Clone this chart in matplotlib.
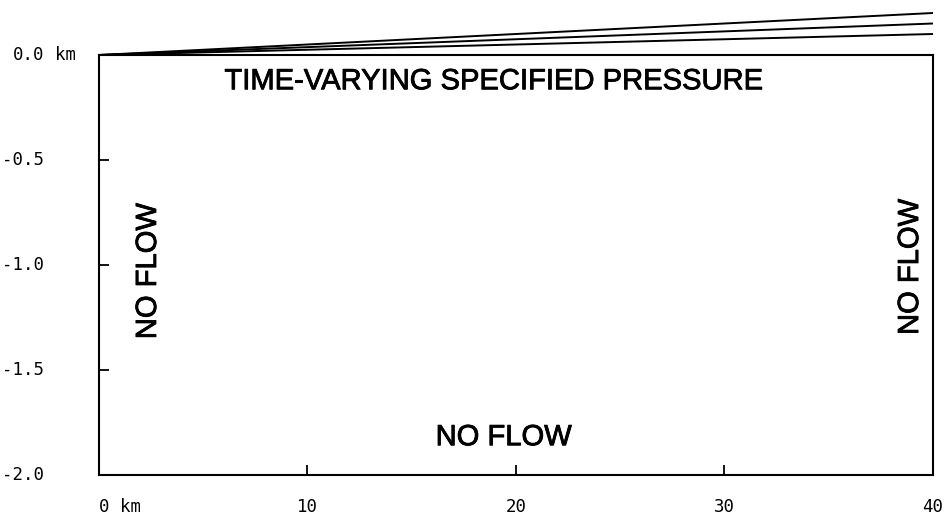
import matplotlib
matplotlib.use("Agg")
import matplotlib.pyplot as plt
import matplotlib.patheffects as pe

# Model domain: 40 km wide, 2 km deep
x_ticks = [0, 10, 20, 30, 40]
x_tick_labels = ["0 km", "10", "20", "30", "40"]
y_ticks = [0.0, -0.5, -1.0, -1.5, -2.0]
y_tick_labels = ["0.0 km", "-0.5", "-1.0", "-1.5", "-2.0"]

# Top boundary: surface elevation rising linearly from the left edge
surface_x = [0, 40]
surface_rises = [0.10, 0.15, 0.20]  # km above datum at x = 40 km

# Boundary-condition labels: (text, x, y, rotation)
labels = [
    ("TIME-VARYING SPECIFIED PRESSURE", 18.9, -0.125, 0),
    ("NO FLOW", 19.4, -1.82, 0),
    ("NO FLOW", 2.35, -1.03, 90),
    ("NO FLOW", 38.9, -1.01, 90),
]

fig = plt.figure(figsize=(9.53, 5.19), dpi=100)
ax = fig.add_axes([99 / 953, 44 / 519, 834 / 953, 420 / 519])
ax.set_xlim(0, 40)
ax.set_ylim(-2.0, 0.0)

for s in ax.spines.values():
    s.set_linewidth(1.5)
    s.set_color("black")

for rise in surface_rises:
    ax.plot(surface_x, [0.0, rise], color="black", lw=1.4, clip_on=False,
            solid_capstyle="butt")

tick_font = dict(family="DejaVu Sans Mono", size=12.5)

# x axis: inner ticks at 10/20/30 only, labels below
ax.set_xticks([10, 20, 30])
ax.tick_params(axis="x", direction="in", length=7, width=1.3,
               labelbottom=False)
for xv, lab in zip(x_ticks, x_tick_labels):
    ha = "left" if xv == 0 else "center"
    ax.text(xv, -0.055, lab, transform=ax.get_xaxis_transform(),
            ha=ha, va="top", **tick_font)

# y axis: inner ticks at interior values, labels at far left
ax.set_yticks([-0.5, -1.0, -1.5])
ax.tick_params(axis="y", direction="in", length=7, width=1.3,
               labelleft=False)
for yv, lab in zip(y_ticks, y_tick_labels):
    num, _, unit = lab.partition(" ")
    ax.text(-0.066, yv, num, transform=ax.get_yaxis_transform(),
            ha="right", va="center", **tick_font)
    if unit:
        ax.text(-0.053, yv, unit, transform=ax.get_yaxis_transform(),
                ha="left", va="center", **tick_font)

medium = [pe.withStroke(linewidth=0.6, foreground="black")]
for text, lx, ly, rot in labels:
    ax.text(lx, ly, text, ha="center", va="center", rotation=rot,
            family="Liberation Sans", fontsize=21, color="black",
            path_effects=medium)

fig.savefig("out.png", dpi=100)
